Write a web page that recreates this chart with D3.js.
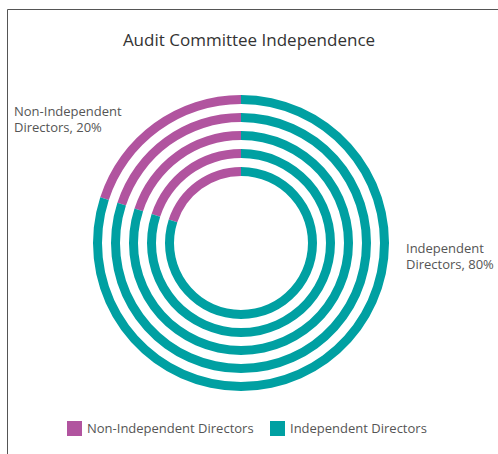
<!DOCTYPE html>
<html><head><meta charset="utf-8">
<script src="https://cdn.jsdelivr.net/npm/d3@7"></script>
<style>html,body{margin:0;padding:0;background:#fff;}svg{display:block;}</style>
</head><body>
<svg id="c" width="498" height="454"></svg>
<script>
const categories = ["Non-Independent Directors", "Independent Directors"];
const values = [20, 80];
const ringCount = [1, 2, 3, 4, 5];
const colors = ["#B1549F", "#00A0A2"];
const labelLines = [["Non-Independent", "Directors, 20%"], ["Independent", "Directors, 80%"]];

const svg = d3.select("#c");
const font = "'Open Sans', sans-serif";
// frame
svg.append("path").attr("d", "M7.5,454 V9.5 H498").attr("fill", "none").attr("stroke", "#555").attr("stroke-width", 1);

svg.append("text").attr("x", 249).attr("y", 46).attr("text-anchor", "middle")
  .attr("font-family", font).attr("font-size", 17).attr("font-weight", 500).attr("fill", "#333").text("Audit Committee Independence");

const cx = 241, cy = 243;
const outerR = 148, thick = 9, step = 18;
const g = svg.append("g").attr("transform", `translate(${cx},${cy})`);
// Non-independent drawn counter-clockwise from the top
const pie = d3.pie().sort(null).value(d => d).startAngle(0).endAngle(-2 * Math.PI);
const arcsData = pie(values);
ringCount.forEach((r, i) => {
  const ro = outerR - i * step;
  const arc = d3.arc().innerRadius(ro - thick).outerRadius(ro);
  g.selectAll(null).data(arcsData).enter().append("path")
    .attr("d", arc).attr("fill", (d, j) => colors[j]);
});

const lab = [{x: 14, y: 116}, {x: 406, y: 253}];
labelLines.forEach((lines, i) => {
  const t = svg.append("text").attr("font-family", font).attr("font-size", 13).attr("fill", "#555");
  lines.forEach((l, k) => t.append("tspan").attr("x", lab[i].x).attr("y", lab[i].y + k * 16).text(l));
});

// legend
const lg = svg.append("g");
const lx = [67, 270];
categories.forEach((c, i) => {
  lg.append("rect").attr("x", lx[i]).attr("y", 421).attr("width", 15).attr("height", 15).attr("fill", colors[i]);
  lg.append("text").attr("x", lx[i] + 20).attr("y", 433).attr("font-family", font).attr("font-size", 13)
    .attr("fill", "#555").text(c);
});
</script>
</body></html>
